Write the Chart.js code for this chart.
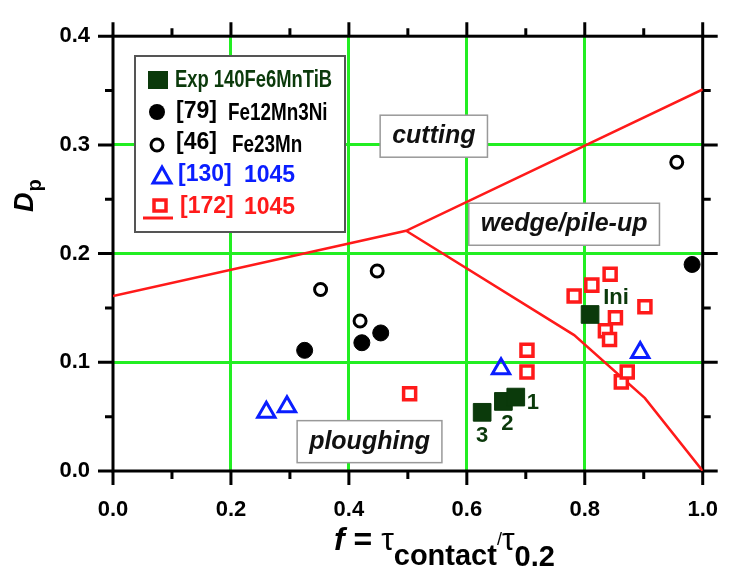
<!DOCTYPE html>
<html>
<head>
<meta charset="utf-8">
<script src="https://cdn.jsdelivr.net/npm/chart.js@4.4.1/dist/chart.umd.min.js"></script>
<style>
  body { margin: 0; background: #fff; }
  #wrap { width: 744px; height: 582px; }
</style>
</head>
<body>
<div id="wrap"><canvas id="dpChart" width="744" height="582"></canvas></div>
<script>
// values
const expX = [0.626, 0.662, 0.683, 0.809];
const expY = [0.054, 0.064, 0.068, 0.144];
const expLabels = ['3', '2', '1', 'Ini'];

const ref79X = [0.325, 0.422, 0.454, 0.982];
const ref79Y = [0.111, 0.118, 0.127, 0.190];

const ref46X = [0.352, 0.419, 0.448, 0.956];
const ref46Y = [0.167, 0.138, 0.184, 0.284];

const ref130X = [0.260, 0.295, 0.658, 0.894];
const ref130Y = [0.054, 0.059, 0.094, 0.109];

const ref172X = [0.503, 0.702, 0.702, 0.862, 0.872, 0.835, 0.842, 0.852, 0.902, 0.782, 0.812, 0.843];
const ref172Y = [0.071, 0.111, 0.091, 0.082, 0.091, 0.129, 0.121, 0.141, 0.151, 0.161, 0.171, 0.181];

// regime boundaries
const upperX = [0, 0.497, 1.0];
const upperY = [0.161, 0.221, 0.351];
const lowerX = [0.497, 0.782, 0.902, 1.0];
const lowerY = [0.221, 0.125, 0.067, 0.0];

// regime names and where they sit (data units)
const regionNames = ['cutting', 'wedge/pile-up', 'ploughing'];
const regionX = [0.544, 0.765, 0.435];
const regionY = [0.308, 0.227, 0.027];

const GREEN = '#22ee22';
const RED = '#ff1a1a';
const BLUE = '#0a1eff';
const DKGREEN = '#0b3a0b';
const SANS = '"Liberation Sans", Arial, sans-serif';

const pts = (xs, ys) => xs.map((v, i) => ({ x: v, y: ys[i] }));

function gridColor(max) {
    return (c) => (c.tick.value > 0.0001 && c.tick.value < max - 0.0001) ? GREEN : 'rgba(0,0,0,0)';
}

// narrow text by squeezing horizontally
function narrowText(ctx, txt, x, y, sx) {
    ctx.save();
    ctx.translate(x, y);
    ctx.scale(sx, 1);
    ctx.fillText(txt, 0, 0);
    ctx.restore();
}

const decor = {
    id: 'decor',
    beforeDatasetsDraw(chart) {
        const { ctx, chartArea: a, scales: { x, y } } = chart;
        ctx.save();

        // frame
        ctx.strokeStyle = '#000';
        ctx.lineWidth = 3;
        ctx.strokeRect(a.left, a.top, a.right - a.left, a.bottom - a.top);

        // tick marks, outward on all four sides
        ctx.lineWidth = 3;
        ctx.beginPath();
        for (let i = 0; i <= 10; i++) {
            const px = x.getPixelForValue(i / 10);
            const len = i % 2 === 0 ? 14 : 8;
            ctx.moveTo(px, a.bottom); ctx.lineTo(px, a.bottom + len);
            ctx.moveTo(px, a.top); ctx.lineTo(px, a.top - len);
        }
        for (let i = 0; i <= 8; i++) {
            const py = y.getPixelForValue(i * 0.05);
            const len = i % 2 === 0 ? 15 : 8;
            ctx.moveTo(a.left, py); ctx.lineTo(a.left - len, py);
            ctx.moveTo(a.right, py); ctx.lineTo(a.right + len, py);
        }
        ctx.stroke();

        // regime boxes
        ctx.font = 'italic bold 25px ' + SANS;
        ctx.textAlign = 'center';
        ctx.textBaseline = 'middle';
        regionNames.forEach((name, i) => {
            const cx = x.getPixelForValue(regionX[i]);
            const cy = y.getPixelForValue(regionY[i]);
            const w = ctx.measureText(name).width + 24;
            const h = 42;
            ctx.fillStyle = '#fff';
            ctx.fillRect(cx - w / 2, cy - h / 2, w, h);
            ctx.strokeStyle = '#999';
            ctx.lineWidth = 1.5;
            ctx.strokeRect(cx - w / 2, cy - h / 2, w, h);
            ctx.fillStyle = '#111';
            ctx.fillText(name, cx, cy);
        });

        // legend box
        ctx.fillStyle = '#fff';
        ctx.fillRect(135, 56, 210, 176);
        ctx.strokeStyle = '#555';
        ctx.lineWidth = 2;
        ctx.strokeRect(135, 56, 210, 176);

        ctx.textAlign = 'left';
        ctx.textBaseline = 'middle';

        // row 1
        ctx.fillStyle = DKGREEN;
        ctx.fillRect(148, 71, 20, 18);
        ctx.font = 'bold 23px ' + SANS;
        narrowText(ctx, 'Exp 140Fe6MnTiB', 175, 81, 0.8);

        // row 2
        ctx.fillStyle = '#000';
        ctx.beginPath(); ctx.arc(157, 112, 8, 0, Math.PI * 2); ctx.fill();
        ctx.fillText('[79]', 176, 112);
        narrowText(ctx, 'Fe12Mn3Ni', 228, 114, 0.82);

        // row 3
        ctx.strokeStyle = '#000';
        ctx.lineWidth = 3;
        ctx.beginPath(); ctx.arc(157, 145, 6, 0, Math.PI * 2); ctx.stroke();
        ctx.fillText('[46]', 176, 143);
        narrowText(ctx, 'Fe23Mn', 232, 146, 0.82);

        // row 4
        ctx.strokeStyle = BLUE;
        ctx.beginPath();
        ctx.moveTo(162, 167); ctx.lineTo(171, 183); ctx.lineTo(153, 183); ctx.closePath();
        ctx.stroke();
        ctx.fillStyle = BLUE;
        ctx.fillText('[130]', 178, 175);
        ctx.fillText('1045', 244, 176);

        // row 5
        ctx.strokeStyle = RED;
        ctx.lineWidth = 3.5;
        ctx.strokeRect(154, 200, 12, 11);
        ctx.lineWidth = 3;
        ctx.beginPath(); ctx.moveTo(143, 218); ctx.lineTo(173, 218); ctx.stroke();
        ctx.fillStyle = RED;
        ctx.fillText('[172]', 180, 207);
        ctx.fillText('1045', 244, 208);

        ctx.restore();
    },
    afterDatasetsDraw(chart) {
        const { ctx, scales: { x, y } } = chart;
        const offs = [[0, 24], [4, 23], [17, 6], [26, -17]];
        ctx.save();
        ctx.fillStyle = DKGREEN;
        ctx.font = 'bold 22px ' + SANS;
        ctx.textAlign = 'center';
        ctx.textBaseline = 'middle';
        expLabels.forEach((t, i) => {
            ctx.fillText(t, x.getPixelForValue(expX[i]) + offs[i][0], y.getPixelForValue(expY[i]) + offs[i][1]);
        });
        ctx.restore();
    },
    afterDraw(chart) {
        const { ctx } = chart;
        ctx.save();
        ctx.fillStyle = '#000';
        ctx.textBaseline = 'alphabetic';
        ctx.textAlign = 'left';

        // x title: f = τcontact/τ0.2
        let cx = 334;
        const base = 550;
        const piece = (txt, font, dy) => {
            ctx.font = font;
            ctx.fillText(txt, cx, base + dy);
            cx += ctx.measureText(txt).width;
        };
        piece('f', 'italic bold 32px ' + SANS, 0);
        piece(' = ', 'bold 32px ' + SANS, 0);
        piece('τ', '32px ' + SANS, 0);
        piece('contact', 'bold 29px ' + SANS, 15);
        piece('/', '18px ' + SANS, -5);
        piece('τ', '32px ' + SANS, 0);
        piece('0.2', 'bold 29px ' + SANS, 16);

        // y title: Dp, rotated
        ctx.translate(33, 212);
        ctx.rotate(-Math.PI / 2);
        ctx.font = 'italic bold 27px ' + SANS;
        ctx.fillText('D', 0, 0);
        const dw = ctx.measureText('D').width;
        ctx.font = 'bold 20px ' + SANS;
        ctx.fillText('p', dw + 1, 8);
        ctx.restore();
    }
};

const tickFont = { family: SANS, size: 22, weight: 'bold' };

new Chart(document.getElementById('dpChart'), {
    type: 'scatter',
    data: {
        datasets: [
            {
                label: 'upper', type: 'line', data: pts(upperX, upperY),
                borderColor: RED, borderWidth: 2.5, pointRadius: 0, fill: false, order: 10
            },
            {
                label: 'lower', type: 'line', data: pts(lowerX, lowerY),
                borderColor: RED, borderWidth: 2.5, pointRadius: 0, fill: false, order: 10
            },
            {
                label: '[172] 1045', data: pts(ref172X, ref172Y),
                pointStyle: 'rect', pointRadius: 8.5, backgroundColor: '#fff',
                borderColor: RED, borderWidth: 3.5, order: 2
            },
            {
                label: '[130] 1045', data: pts(ref130X, ref130Y),
                pointStyle: 'triangle', pointRadius: 10, backgroundColor: 'rgba(255,255,255,0)',
                borderColor: BLUE, borderWidth: 3, order: 2
            },
            {
                label: '[46] Fe23Mn', data: pts(ref46X, ref46Y),
                pointStyle: 'circle', pointRadius: 6, backgroundColor: '#fff',
                borderColor: '#000', borderWidth: 3, order: 2
            },
            {
                label: '[79] Fe12Mn3Ni', data: pts(ref79X, ref79Y),
                pointStyle: 'circle', pointRadius: 8, backgroundColor: '#000',
                borderColor: '#000', borderWidth: 1, order: 2
            },
            {
                label: 'Exp 140Fe6MnTiB', data: pts(expX, expY),
                pointStyle: 'rect', pointRadius: 12.5, backgroundColor: DKGREEN,
                borderColor: DKGREEN, borderWidth: 1, order: 1
            }
        ]
    },
    options: {
        responsive: false,
        animation: false,
        layout: { padding: { top: 28, right: 34, left: 0, bottom: 0 } },
        plugins: { legend: { display: false }, tooltip: { enabled: false } },
        scales: {
            x: {
                type: 'linear', min: 0, max: 1,
                ticks: { stepSize: 0.2, padding: 26, color: '#000', font: tickFont,
                    callback: (v) => v.toFixed(1) },
                grid: { color: gridColor(1), lineWidth: 3, drawTicks: false },
                border: { display: false },
                afterFit: (s) => { s.height = 111; }
            },
            y: {
                type: 'linear', min: 0, max: 0.4,
                ticks: { stepSize: 0.1, padding: 23, color: '#000', font: tickFont,
                    callback: (v) => v.toFixed(1) },
                grid: { color: gridColor(0.4), lineWidth: 3, drawTicks: false },
                border: { display: false },
                afterFit: (s) => { s.width = 113; }
            }
        }
    },
    plugins: [decor]
});
</script>
</body>
</html>
